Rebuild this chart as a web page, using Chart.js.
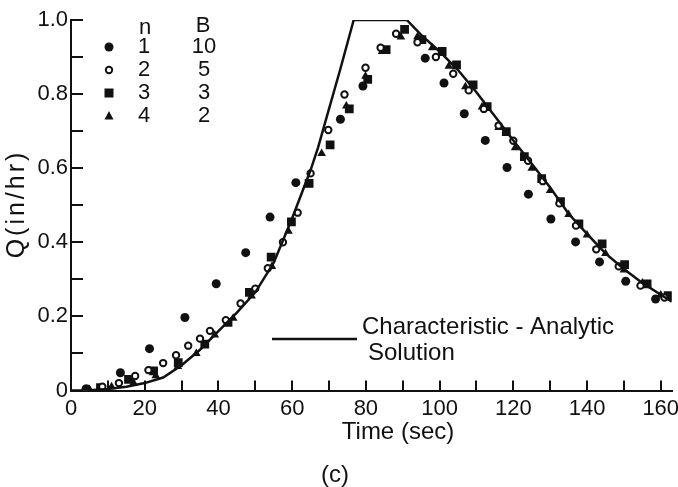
<!DOCTYPE html>
<html>
<head>
<meta charset="utf-8">
<script src="https://cdn.jsdelivr.net/npm/chart.js@4.4.1/dist/chart.umd.min.js"></script>
<style>
  html, body { margin: 0; padding: 0; background: #fff; overflow: hidden; }
  canvas { display: block; }
</style>
</head>
<body>
<canvas id="grafico" width="678" height="487"></canvas>
<script>
// valores (c)
const lineaTiempo = [0, 5, 10, 15, 20, 25, 30, 35, 40, 45, 50, 55, 60, 65, 67, 70, 73, 76.7, 91.1, 95, 100, 105, 110, 115, 120, 125, 130, 135, 140, 145, 150, 155, 163];
const lineaQ = [0, 0.001, 0.004, 0.01, 0.02, 0.035, 0.068, 0.11, 0.16, 0.21, 0.265, 0.345, 0.465, 0.595, 0.655, 0.76, 0.865, 1.0, 1.0, 0.96, 0.915, 0.865, 0.805, 0.74, 0.675, 0.612, 0.548, 0.477, 0.423, 0.37, 0.328, 0.29, 0.24];

// n = 1, B = 10 (circulo lleno)
const n1Tiempo = [4.3, 13.4, 21.3, 30.9, 39.4, 47.4, 54.0, 61.0, 73.1, 79.2, 96.1, 101.2, 106.7, 112.4, 118.3, 124.1, 130.2, 136.9, 143.4, 150.5, 158.6];
const n1Q = [0.004, 0.048, 0.113, 0.197, 0.288, 0.372, 0.468, 0.561, 0.732, 0.822, 0.897, 0.830, 0.747, 0.675, 0.602, 0.530, 0.463, 0.401, 0.347, 0.295, 0.247];

// n = 2, B = 5 (circulo abierto)
const n2Tiempo = [4, 8.5, 13, 17.4, 21, 25, 28.5, 31.8, 35, 37.7, 42, 46, 50, 53.4, 57.5, 61.5, 65, 69.8, 74.2, 79.9, 84, 88.2, 94, 99, 103.7, 107.9, 112, 116, 120, 124, 128, 132.5, 137, 142.5, 148.6, 154.5, 161];
const n2Q = [0.005, 0.01, 0.02, 0.039, 0.055, 0.074, 0.095, 0.121, 0.14, 0.161, 0.19, 0.235, 0.275, 0.33, 0.4, 0.48, 0.586, 0.703, 0.799, 0.871, 0.925, 0.963, 0.94, 0.9, 0.855, 0.81, 0.76, 0.715, 0.674, 0.62, 0.565, 0.505, 0.445, 0.381, 0.335, 0.283, 0.251];

// n = 3, B = 3 (cuadrado)
const n3Tiempo = [8, 15.6, 22.4, 29.1, 36.3, 42.6, 48.4, 54.3, 59.8, 64.6, 70.3, 75.5, 80.5, 85.5, 90.5, 95.2, 100.7, 104.6, 109.1, 112.9, 118.1, 123, 127.7, 132.8, 137.8, 144.1, 150.2, 156.3, 162];
const n3Q = [0.008, 0.03, 0.053, 0.075, 0.125, 0.184, 0.265, 0.36, 0.455, 0.559, 0.663, 0.76, 0.84, 0.92, 0.975, 0.947, 0.915, 0.879, 0.825, 0.766, 0.699, 0.631, 0.572, 0.51, 0.45, 0.396, 0.34, 0.288, 0.256];

// n = 4, B = 2 (triangulo)
const n4Tiempo = [5, 11, 17, 23, 29, 34, 39, 44, 49, 54.5, 59, 64, 68, 74.7, 79.9, 84.4, 89.5, 94, 98, 102.5, 107, 111.5, 116, 120.5, 125, 130, 135, 140, 145, 150, 155, 160];
const n4Q = [0.003, 0.01, 0.02, 0.04, 0.065, 0.1, 0.15, 0.195, 0.255, 0.335, 0.43, 0.555, 0.64, 0.768, 0.848, 0.915, 0.954, 0.955, 0.925, 0.875, 0.82, 0.765, 0.71, 0.655, 0.6, 0.54, 0.475, 0.42, 0.37, 0.325, 0.29, 0.258];

const leyendaN = ["1", "2", "3", "4"];
const leyendaB = ["10", "5", "3", "2"];
const leyendaForma = ["circle", "open", "rect", "triangle"];

const xMax = 163;
const FUENTE = "'Liberation Sans', Arial, sans-serif";
const NEGRO = "#111";

const puntos = (t, q) => t.map((v, i) => ({ x: v, y: q[i] }));

function marcador(ctx, forma, x, y) {
    ctx.save();
    ctx.fillStyle = NEGRO;
    ctx.strokeStyle = NEGRO;
    ctx.lineWidth = 2;
    ctx.beginPath();
    if (forma === "circle") {
        ctx.arc(x, y, 4.5, 0, Math.PI * 2);
        ctx.fill();
    } else if (forma === "open") {
        ctx.arc(x, y, 3.2, 0, Math.PI * 2);
        ctx.stroke();
    } else if (forma === "rect") {
        ctx.fillRect(x - 4.5, y - 4.5, 9, 9);
    } else {
        ctx.moveTo(x, y - 5);
        ctx.lineTo(x + 4.5, y + 3.5);
        ctx.lineTo(x - 4.5, y + 3.5);
        ctx.closePath();
        ctx.fill();
    }
    ctx.restore();
}

const textos = {
    id: "textos",
    afterDraw(chart) {
        const ctx = chart.ctx;
        ctx.save();
        ctx.fillStyle = NEGRO;
        ctx.textBaseline = "middle";

        // tabla n / B
        ctx.font = "22px " + FUENTE;
        ctx.textAlign = "center";
        ctx.fillText("n", 145, 28);
        ctx.fillText("B", 203, 26);
        leyendaN.forEach((n, i) => {
            const y = 47 + i * 23;
            marcador(ctx, leyendaForma[i], 109, y);
            ctx.fillText(n, 144, y);
            ctx.fillText(leyendaB[i], 204, y);
        });

        // leyenda de la linea
        ctx.strokeStyle = NEGRO;
        ctx.lineWidth = 2.5;
        ctx.beginPath();
        ctx.moveTo(272, 339);
        ctx.lineTo(357, 339);
        ctx.stroke();
        ctx.font = "24px " + FUENTE;
        ctx.textAlign = "left";
        ctx.fillText("Characteristic - Analytic", 362, 327);
        ctx.fillText("Solution", 368, 353);

        // titulos
        ctx.textAlign = "center";
        ctx.font = "24px " + FUENTE;
        ctx.fillText("Time (sec)", 398, 432);
        ctx.fillText("(c)", 335, 475);

        ctx.translate(17, 204);
        ctx.rotate(-Math.PI / 2);
        ctx.font = "25px " + FUENTE;
        ctx.letterSpacing = "3px";
        ctx.fillText("Q(in/hr)", 0, 0);
        ctx.restore();
    }
};

new Chart(document.getElementById("grafico"), {
    type: "scatter",
    data: {
        datasets: [
            {
                type: "line",
                label: "Characteristic - Analytic Solution",
                data: puntos(lineaTiempo, lineaQ),
                borderColor: NEGRO,
                borderWidth: 2.5,
                pointRadius: 0,
                tension: 0,
                fill: false,
                order: 0
            },
            {
                label: "n=1 B=10",
                data: puntos(n1Tiempo, n1Q),
                pointStyle: "circle",
                pointRadius: 4.5,
                backgroundColor: NEGRO,
                borderColor: NEGRO,
                borderWidth: 0,
                order: 1
            },
            {
                label: "n=2 B=5",
                data: puntos(n2Tiempo, n2Q),
                pointStyle: "circle",
                pointRadius: 3.2,
                backgroundColor: "#fff",
                borderColor: NEGRO,
                borderWidth: 2,
                order: 2
            },
            {
                label: "n=3 B=3",
                data: puntos(n3Tiempo, n3Q),
                pointStyle: "rect",
                pointRadius: 6.2,
                backgroundColor: NEGRO,
                borderColor: NEGRO,
                borderWidth: 0,
                order: 3
            },
            {
                label: "n=4 B=2",
                data: puntos(n4Tiempo, n4Q),
                pointStyle: "triangle",
                pointRadius: 5,
                backgroundColor: NEGRO,
                borderColor: NEGRO,
                borderWidth: 0,
                order: 4
            }
        ]
    },
    options: {
        responsive: false,
        animation: false,
        devicePixelRatio: 1,
        layout: { padding: { left: 0, top: 20, right: 0, bottom: 0 } },
        plugins: {
            legend: { display: false },
            tooltip: { enabled: false }
        },
        scales: {
            x: {
                type: "linear",
                min: 0,
                max: xMax,
                border: { display: true, color: NEGRO, width: 2 },
                grid: { drawOnChartArea: false, color: NEGRO, lineWidth: 2, tickLength: -10 },
                ticks: {
                    stepSize: 10,
                    includeBounds: false,
                    padding: 15,
                    color: NEGRO,
                    font: { family: FUENTE, size: 22 },
                    maxRotation: 0,
                    autoSkip: false,
                    callback: v => (Math.round(v) % 20 === 0 ? String(Math.round(v)) : "")
                },
                afterFit: s => { s.height = 96.5; s.paddingLeft = 0; s.paddingRight = 0; }
            },
            y: {
                type: "linear",
                min: 0,
                max: 1.0,
                border: { display: true, color: NEGRO, width: 2 },
                grid: { drawOnChartArea: false, color: NEGRO, lineWidth: 2, tickLength: -12 },
                ticks: {
                    stepSize: 0.1,
                    padding: 15,
                    color: NEGRO,
                    font: { family: FUENTE, size: 22 },
                    autoSkip: false,
                    callback: v => {
                        const d = Math.round(v * 10);
                        if (d % 2 !== 0) return "";
                        return d === 0 ? "0" : (d / 10).toFixed(1);
                    }
                },
                afterFit: s => { s.width = 71; s.paddingTop = 0; s.paddingBottom = 0; }
            }
        }
    },
    plugins: [textos]
});
</script>
</body>
</html>
